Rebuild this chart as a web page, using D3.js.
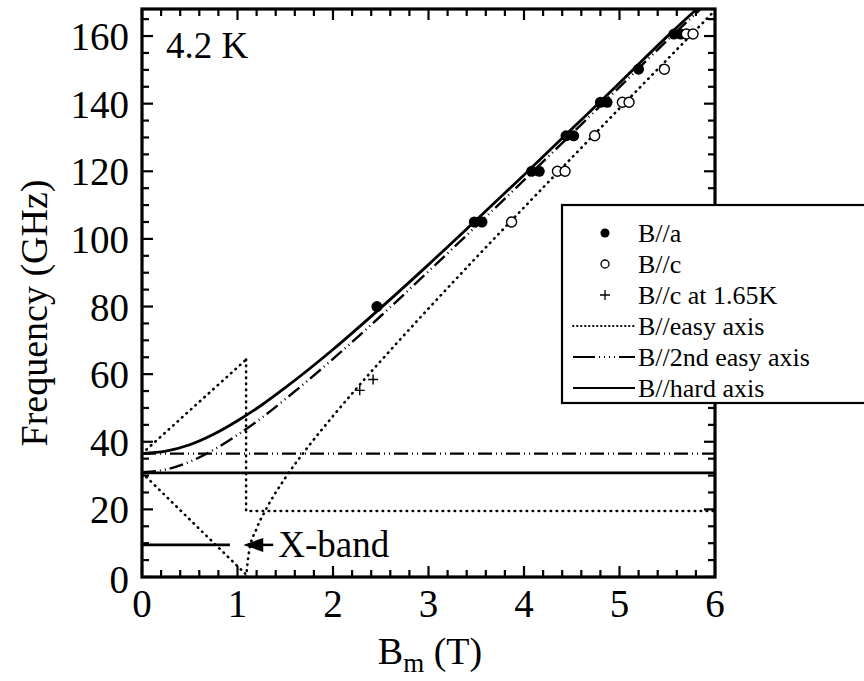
<!DOCTYPE html>
<html>
<head>
<meta charset="utf-8">
<script src="https://cdn.jsdelivr.net/npm/d3@7"></script>
<style>
  html, body { margin: 0; padding: 0; background: #fff; }
  svg { display: block; }
</style>
</head>
<body>
<div id="chart"></div>
<script>
////////////////////////////////////////////////////////
//////////////////// Data /////////////////////////////
////////////////////////////////////////////////////////

// measured points (B in T, f in GHz)
let bA = [2.46, 3.48, 3.56, 4.08, 4.16, 4.44, 4.52, 4.80, 4.87, 5.20, 5.57, 5.64];
let fA = [80, 105, 105, 120, 120, 130.5, 130.5, 140.4, 140.4, 150.2, 160.6, 160.6];

let bC = [3.87, 4.35, 4.43, 4.74, 5.03, 5.10, 5.47, 5.70, 5.77];
let fC = [105, 120, 120, 130.5, 140.4, 140.4, 150.2, 160.6, 160.6];

let bC165 = [2.28, 2.42];
let fC165 = [55.2, 58.4];

// calculated branches
let easyUpper = [[0, 36.5], [1.09, 64.3]];
let easyStep = [[1.09, 64.3], [1.09, 19.5], [6, 19.5]];
let easyLower = [[0, 30.8], [1.08, 1]];
let easyRise = [[1.09, 0], [1.12, 7.3], [1.2, 14.3], [1.3, 20.1], [1.5, 29.3], [1.75, 38.9],
  [2.0, 47.6], [2.25, 55.9], [2.5, 63.9], [3.0, 79.4], [3.5, 94.5], [4.0, 109.3],
  [4.5, 124.0], [5.0, 138.6], [5.5, 153.1], [6.0, 167.6]];

let secondFlat = [[0, 36.5], [6, 36.5]];
let secondRise = [[0, 31], [0.25, 31.8], [0.5, 34.1], [0.75, 37.6], [1.0, 42.0], [1.25, 47.0],
  [1.5, 52.6], [2.0, 64.5], [2.5, 77.2], [3.0, 90.4], [3.5, 103.8], [4.0, 117.4],
  [4.5, 131.1], [5.0, 144.9], [5.5, 158.7], [5.85, 168]];

let hardFlat = [[0, 30.8], [6, 30.8]];
let hardRise = [[0, 36.5], [0.25, 37.2], [0.5, 39.1], [0.75, 42.2], [1.0, 46.2], [1.25, 50.8],
  [1.5, 56.0], [2.0, 67.3], [2.5, 79.6], [3.0, 92.4], [3.5, 105.6], [4.0, 118.9],
  [4.5, 132.5], [5.0, 146.1], [5.5, 159.9], [5.81, 168]];

let xBand = [[0, 9.5], [0.92, 9.5]];
let xBandArrow = [1.06, 9.5];

let xTicks = [0, 1, 2, 3, 4, 5, 6];
let yTicks = [0, 20, 40, 60, 80, 100, 120, 140, 160];

let legendLabels = ["B//a", "B//c", "B//c at 1.65K", "B//easy axis", "B//2nd easy axis", "B//hard axis"];

////////////////////////////////////////////////////////
//////////////////// Setup /////////////////////////////
////////////////////////////////////////////////////////

let width = 864;
let height = 681;
let margin = ({ top: 9, right: 149, bottom: 104, left: 142 });
let serif = "'Liberation Serif', 'Times New Roman', Times, 'DejaVu Serif', serif";

let x = d3.scaleLinear()
  .domain([0, 6])
  .range([margin.left, width - margin.right]);

let y = d3.scaleLinear()
  .domain([0, 168])
  .range([height - margin.bottom, margin.top]);

let line = d3.line()
  .x(d => x(d[0]))
  .y(d => y(d[1]));

let curve = d3.line()
  .x(d => x(d[0]))
  .y(d => y(d[1]))
  .curve(d3.curveMonotoneX);

let styles = {
  easy: { dash: "0.5,5.5", w: 2.6, cap: "round" },
  second: { dash: "14,4,1,4,1,4", w: 2.4, cap: "butt" },
  hard: { dash: null, w: 2.8, cap: "butt" }
};

////////////////////////////////////////////////////////
//////////////////// Creating the figure ///////////////
////////////////////////////////////////////////////////

const svg = d3.select("#chart").append("svg")
  .attr("width", width)
  .attr("height", height)
  .attr("viewBox", [0, 0, width, height])
  .attr("font-family", serif);

svg.append("defs").append("clipPath")
  .attr("id", "plot-clip")
  .append("rect")
  .attr("x", margin.left)
  .attr("y", margin.top)
  .attr("width", width - margin.left - margin.right)
  .attr("height", height - margin.top - margin.bottom);

// ticks: major + minor, all pointing inward
let xMinor = d3.range(0, 6.0001, 0.2).filter(v => Math.abs(v - Math.round(v)) > 1e-6);
let yMinor = d3.range(0, 168, 5).filter(v => v % 20 !== 0);

let ticks = svg.append("g").attr("stroke", "#000").attr("stroke-width", 2.2);

let x0 = x.range()[0], x1 = x.range()[1];
let y0 = y.range()[0], y1 = y.range()[1];

ticks.selectAll(".xb").data(xTicks.concat(xMinor)).join("line")
  .attr("x1", d => x(d)).attr("x2", d => x(d))
  .attr("y1", y0).attr("y2", d => y0 - (xTicks.includes(d) ? 11 : 7));
ticks.selectAll(".xt").data(xTicks.concat(xMinor)).join("line")
  .attr("x1", d => x(d)).attr("x2", d => x(d))
  .attr("y1", y1).attr("y2", d => y1 + (xTicks.includes(d) ? 11 : 7));
ticks.selectAll(".yl").data(yTicks.concat(yMinor)).join("line")
  .attr("y1", d => y(d)).attr("y2", d => y(d))
  .attr("x1", x0).attr("x2", d => x0 + (yTicks.includes(d) ? 11 : 7));
ticks.selectAll(".yr").data(yTicks.concat(yMinor)).join("line")
  .attr("y1", d => y(d)).attr("y2", d => y(d))
  .attr("x1", x1).attr("x2", d => x1 - (yTicks.includes(d) ? 11 : 7));

// tick labels
svg.append("g").selectAll("text").data(xTicks).join("text")
  .attr("x", d => x(d))
  .attr("y", y0 + 40)
  .attr("text-anchor", "middle")
  .attr("font-size", 39)
  .text(d => d);

svg.append("g").selectAll("text").data(yTicks).join("text")
  .attr("x", x0 - 13)
  .attr("y", d => y(d) + 14 + (d === 0 ? 2 : 0))
  .attr("text-anchor", "end")
  .attr("font-size", 39)
  .text(d => d);

// curves
const plot = svg.append("g").attr("clip-path", "url(#plot-clip)").attr("fill", "none").attr("stroke", "#000");

let drawPath = function(pts, st, gen) {
  plot.append("path")
    .datum(pts)
    .attr("d", gen || line)
    .attr("stroke-width", st.w)
    .attr("stroke-linecap", st.cap)
    .attr("stroke-dasharray", st.dash);
};

drawPath(easyUpper, styles.easy);
drawPath(easyStep, styles.easy);
drawPath(easyLower, styles.easy);
drawPath(easyRise, styles.easy, curve);
drawPath(secondFlat, styles.second);
drawPath(secondRise, styles.second, curve);
drawPath(hardFlat, styles.hard);
drawPath(hardRise, styles.hard, curve);

// X-band marker
plot.append("path").datum(xBand).attr("d", line).attr("stroke-width", 2.8);
let ax = x(xBandArrow[0]), ay = y(xBandArrow[1]);
svg.append("path")
  .attr("d", `M${ax},${ay} L${ax + 20},${ay - 7} L${ax + 20},${ay + 7} Z`)
  .attr("fill", "#000");
svg.append("line")
  .attr("x1", ax + 18).attr("x2", ax + 30)
  .attr("y1", ay).attr("y2", ay)
  .attr("stroke", "#000").attr("stroke-width", 2.5);
svg.append("text")
  .attr("x", ax + 35).attr("y", ay + 12)
  .attr("font-size", 37)
  .text("X-band");

// points
svg.append("g").selectAll("circle").data(d3.zip(bA, fA)).join("circle")
  .attr("cx", d => x(d[0])).attr("cy", d => y(d[1])).attr("r", 5.5)
  .attr("fill", "#000");

svg.append("g").selectAll("circle").data(d3.zip(bC, fC)).join("circle")
  .attr("cx", d => x(d[0])).attr("cy", d => y(d[1])).attr("r", 5)
  .attr("fill", "#fff").attr("stroke", "#000").attr("stroke-width", 1.4);

svg.append("g").selectAll("path").data(d3.zip(bC165, fC165)).join("path")
  .attr("d", d => `M${x(d[0]) - 5},${y(d[1])}h10M${x(d[0])},${y(d[1]) - 5}v10`)
  .attr("stroke", "#000").attr("stroke-width", 1.4);

// frame
svg.append("rect")
  .attr("x", x0).attr("y", y1)
  .attr("width", x1 - x0).attr("height", y0 - y1)
  .attr("fill", "none").attr("stroke", "#000").attr("stroke-width", 3.2);

// labels
svg.append("text")
  .attr("x", 166).attr("y", 58)
  .attr("font-size", 37)
  .text("4.2 K");

svg.append("text")
  .attr("transform", `translate(47,${313}) rotate(-90)`)
  .attr("text-anchor", "middle")
  .attr("font-size", 38)
  .text("Frequency (GHz)");

let xt = svg.append("text")
  .attr("x", 430).attr("y", 664)
  .attr("text-anchor", "middle")
  .attr("font-size", 38);
xt.append("tspan").text("B");
xt.append("tspan").attr("font-size", 27).attr("dy", 8).text("m");
xt.append("tspan").attr("dy", -8).text(" (T)");

////////////////////////////////////////////////////////
//////////////////// Legend ////////////////////////////
////////////////////////////////////////////////////////

let lg = svg.append("g");
let lgTop = 205, lgLeft = 562, rowH = 31;

lg.append("rect")
  .attr("x", lgLeft).attr("y", lgTop)
  .attr("width", 320).attr("height", rowH * 6 + 12)
  .attr("fill", "#fff").attr("stroke", "#000").attr("stroke-width", 2.2);

let rowY = i => lgTop + 28 + i * rowH;

lg.append("circle").attr("cx", 605).attr("cy", rowY(0)).attr("r", 4.5).attr("fill", "#000");
lg.append("circle").attr("cx", 605).attr("cy", rowY(1)).attr("r", 4)
  .attr("fill", "#fff").attr("stroke", "#000").attr("stroke-width", 1.3);
lg.append("path").attr("d", `M${600},${rowY(2)}h10M${605},${rowY(2) - 5}v10`)
  .attr("stroke", "#000").attr("stroke-width", 1.3);

[styles.easy, styles.second, styles.hard].forEach((st, k) => {
  lg.append("line")
    .attr("x1", 573).attr("x2", 635)
    .attr("y1", rowY(3 + k)).attr("y2", rowY(3 + k))
    .attr("stroke", "#000").attr("stroke-width", k === 0 ? 1.8 : 2)
    .attr("stroke-linecap", st.cap)
    .attr("stroke-dasharray", k === 1 ? "22,4,1,4,1,4,1,4,1,4" : (k === 0 ? "0.5,3.5" : null));
});

lg.selectAll("text.lab").data(legendLabels).join("text")
  .attr("class", "lab")
  .attr("x", 638)
  .attr("y", (d, i) => rowY(i) + 9)
  .attr("font-size", 26)
  .text(d => d);
</script>
</body>
</html>
